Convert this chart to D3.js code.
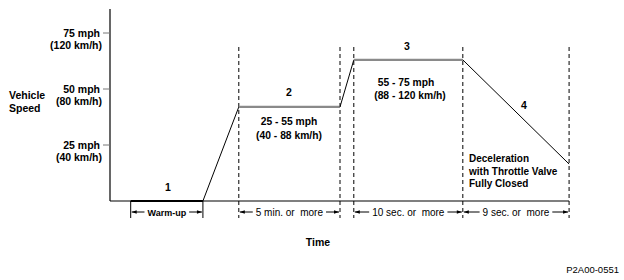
<!DOCTYPE html>
<html>
<head>
<meta charset="utf-8">
<script src="https://cdn.jsdelivr.net/npm/d3@7"></script>
<style>
  body { margin: 0; background: #fff; }
  svg text { font-family: "Liberation Sans", Arial, sans-serif; fill: #000; white-space: pre; }
</style>
</head>
<body>
<script>
// speed axis ticks
const tickMph = [25, 50, 75];
const tickKmh = ["(40 km/h)", "(80 km/h)", "(120 km/h)"];

// schematic time breakpoints (arbitrary units, 0..100)
const phaseTimes = [4.5, 20.2, 28, 50, 53, 76.7, 99.8];
// speed (mph) at each breakpoint
const phaseSpeeds = [0, 0, 42, 42, 63, 63, 16.5];

// dimension labels under the time axis: [start index, end index, label]
const spans = [
  [0, 1, "Warm-up"],
  [2, 3, "5 min. or  more"],
  [4, 5, "10 sec. or  more"],
  [5, 6, "9 sec. or  more"]
];

const width = 624, height = 280;
const svg = d3.select("body").append("svg")
  .attr("width", width).attr("height", height);

const x = d3.scaleLinear().domain([0, 100]).range([110, 570]);
const y = d3.scaleLinear().domain([0, 75]).range([201, 33]);

// axes
svg.append("line").attr("x1", x(0)).attr("x2", x(0))
  .attr("y1", y(0)).attr("y2", 9).attr("stroke", "#000").attr("stroke-width", 1.2);
svg.append("line").attr("x1", x(0)).attr("x2", x(99.8))
  .attr("y1", y(0)).attr("y2", y(0)).attr("stroke", "#000").attr("stroke-width", 1.2);

// ticks
svg.selectAll("line.tick").data(tickMph).enter().append("line")
  .attr("class", "tick")
  .attr("x1", x(0) - 7).attr("x2", x(0))
  .attr("y1", d => y(d)).attr("y2", d => y(d))
  .attr("stroke", "#777").attr("stroke-width", 1);

const tickLab = svg.selectAll("text.tl").data(tickMph).enter().append("text")
  .attr("class", "tl")
  .attr("text-anchor", "end")
  .attr("font-size", 10.5).attr("font-weight", "bold");
tickLab.append("tspan").attr("x", x(0) - 10).attr("y", d => y(d) + 4).text(d => d + " mph");
tickLab.append("tspan").attr("x", x(0) - 8).attr("y", d => y(d) + 16).text((d, i) => tickKmh[i]);

// axis titles
const yt = svg.append("text").attr("font-size", 10.5).attr("font-weight", "bold");
yt.append("tspan").attr("x", 9).attr("y", 99).text("Vehicle");
yt.append("tspan").attr("x", 9).attr("y", 112).text("Speed");

svg.append("text").attr("x", 318).attr("y", 246).attr("text-anchor", "middle")
  .attr("font-size", 10.5).attr("font-weight", "bold").text("Time");
svg.append("text").attr("x", 619).attr("y", 273).attr("text-anchor", "end")
  .attr("font-size", 9.5).text("P2A00-0551");

// dashed phase boundaries
const dashIdx = [2, 3, 4, 5, 6];
svg.selectAll("line.dash").data(dashIdx).enter().append("line")
  .attr("x1", d => x(phaseTimes[d])).attr("x2", d => x(phaseTimes[d]))
  .attr("y1", 47).attr("y2", 218)
  .attr("stroke", "#000").attr("stroke-width", 1).attr("stroke-dasharray", "4,3");

// warm-up solid brackets
svg.selectAll("line.wb").data([0, 1]).enter().append("line")
  .attr("x1", d => x(phaseTimes[d])).attr("x2", d => x(phaseTimes[d]))
  .attr("y1", y(0)).attr("y2", 218)
  .attr("stroke", "#000").attr("stroke-width", 1);

// speed profile segments
const segs = d3.range(phaseTimes.length - 1).map(i => ({
  x0: phaseTimes[i], y0: phaseSpeeds[i], x1: phaseTimes[i + 1], y1: phaseSpeeds[i + 1]
}));
svg.selectAll("line.seg").data(segs).enter().append("line")
  .attr("x1", d => x(d.x0)).attr("y1", d => y(d.y0))
  .attr("x2", d => x(d.x1)).attr("y2", d => y(d.y1))
  .attr("stroke", d => d.y0 === d.y1 ? (d.y0 === 0 ? "#000" : "#8a8a8a") : "#000")
  .attr("stroke-width", d => d.y0 === d.y1 ? 2.2 : 1);

// arrowheads
const defs = svg.append("defs");
defs.append("marker").attr("id", "ah").attr("viewBox", "0 0 10 10")
  .attr("refX", 10).attr("refY", 5).attr("markerWidth", 9).attr("markerHeight", 5)
  .attr("markerUnits", "userSpaceOnUse").attr("orient", "auto")
  .append("path").attr("d", "M0,1.5L10,5L0,8.5Z").attr("fill", "#000");

const spanG = svg.selectAll("g.span").data(spans).enter().append("g");
spanG.each(function(d) {
  const g = d3.select(this);
  const a = x(phaseTimes[d[0]]), b = x(phaseTimes[d[1]]);
  const warm = d[2] === "Warm-up";
  const t = g.append("text").attr("x", (a + b) / 2).attr("y", 216)
    .attr("text-anchor", "middle").attr("font-size", warm ? 9 : 10)
    .attr("font-weight", warm ? "bold" : "normal")
    .text(d[2]);
  const w = t.node().getComputedTextLength();
  const m = (a + b) / 2, gap = 3;
  g.append("line").attr("x1", m - w / 2 - gap).attr("x2", a + 1)
    .attr("y1", 212).attr("y2", 212).attr("stroke", "#000").attr("marker-end", "url(#ah)");
  g.append("line").attr("x1", m + w / 2 + gap).attr("x2", b - 1)
    .attr("y1", 212).attr("y2", 212).attr("stroke", "#000").attr("marker-end", "url(#ah)");
});

// phase numbers and notes
const bold = (tx, ty, s, anchor, fs) => svg.append("text").attr("x", tx).attr("y", ty)
  .attr("text-anchor", anchor || "middle").attr("font-size", fs || 10.5).attr("font-weight", "bold").text(s);
bold(168, 191, "1");
bold(289, 96, "2");
bold(407, 50, "3");
bold(524, 109, "4");
bold(289, 125, "25 - 55 mph", null, 10.3);
bold(289, 139, "(40 - 88 km/h)", null, 10.3);
bold(406, 86, "55 - 75 mph", null, 10.3);
bold(410, 99, "(88 - 120 km/h)", null, 10.3);
bold(469, 162, "Deceleration", "start", 10);
bold(469, 174.5, "with Throttle Valve", "start", 10);
bold(469, 187, "Fully Closed", "start", 10);
</script>
</body>
</html>
